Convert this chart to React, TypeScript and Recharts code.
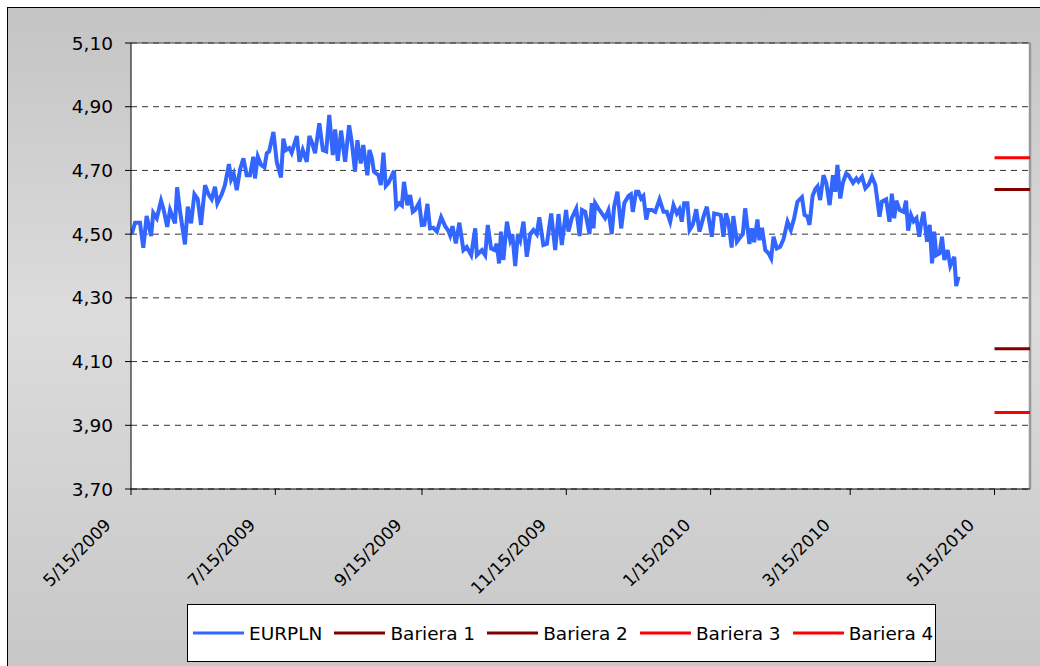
import { CartesianGrid, Line, LineChart, ReferenceLine, XAxis, YAxis } from "recharts";

// days counted from 5/15/2009
const eurplnDay = [
	0.3, 1.7, 3.8, 5.2, 6.6, 8.5, 9.4, 10.9, 12.7, 13.7,
	15.3, 16.5, 18.6, 19.5, 20.7, 22.8, 24.0, 25.4, 26.8, 28.2,
	29.6, 31.3, 32.7, 34.1, 35.5, 36.5, 38.4, 39.7, 41.4, 42.3,
	43.4, 44.7, 46.1, 47.5, 48.9, 50.3, 51.7, 52.4, 53.6, 55.0,
	56.4, 57.4, 58.4, 60.2, 61.6, 63.4, 64.4, 65.5, 66.9, 67.9,
	70.1, 71.2, 72.6, 74.3, 75.4, 76.4, 77.8, 79.6, 81.1, 82.5,
	83.8, 85.3, 86.3, 87.4, 88.8, 90.5, 92.2, 93.3, 94.7, 95.7,
	97.1, 98.2, 99.9, 100.8, 101.8, 102.7, 104.6, 105.6, 106.7, 107.7,
	108.8, 111.2, 112.1, 113.4, 114.5, 115.4, 116.8, 118.0, 119.1, 120.1,
	121.8, 122.9, 124.0, 125.3, 126.4, 127.8, 129.3, 131.1, 132.8, 134.2,
	134.9, 135.9, 137.3, 138.8, 140.5, 141.9, 143.8, 145.5, 146.2, 148.3,
	149.7, 150.8, 152.2, 153.6, 154.6, 155.6, 156.4, 157.4, 158.9, 160.3,
	161.2, 162.4, 163.5, 164.5, 165.9, 167.3, 168.7, 170.1, 171.5, 172.6,
	174.3, 175.8, 177.6, 179.3, 180.7, 182.1, 183.9, 184.9, 186.3, 188.2,
	189.6, 190.6, 192.0, 193.8, 194.8, 195.5, 196.2, 197.6, 199.0, 200.4,
	201.8, 203.2, 204.2, 205.6, 207.2, 208.5, 210.3, 211.3, 212.1, 213.5,
	214.5, 215.6, 216.6, 217.8, 218.7, 220.2, 221.6, 223.4, 225.1, 226.5,
	227.9, 229.3, 230.7, 231.8, 232.8, 233.8, 235.2, 236.1, 237.5, 238.9,
	240.3, 242.0, 243.4, 245.5, 246.5, 248.3, 249.3, 250.4, 251.5, 252.5,
	253.9, 254.6, 256.1, 257.5, 258.6, 259.6, 261.4, 262.4, 263.4, 264.8,
	265.6, 266.7, 268.1, 269.5, 270.6, 271.6, 273.0, 274.4, 275.8, 277.5,
	278.9, 280.3, 281.7, 283.6, 284.7, 285.9, 286.8, 288.1, 289.2, 290.2,
	291.3, 292.7, 293.9, 295.3, 296.7, 297.7, 298.6, 299.8, 300.9, 302.3,
	303.3, 305.2, 306.6, 307.5, 309.0, 310.4, 311.8, 313.2, 314.6, 316.4,
	317.4, 319.2, 320.6, 321.6, 322.6, 323.5, 324.9, 326.6, 327.6, 328.5,
	329.7, 330.8, 332.0, 333.2, 333.9, 335.0, 336.5, 337.6, 338.6, 339.5,
	340.4, 341.8, 342.8, 343.8, 345.2, 346.3, 348.0, 348.8, 349.8,
];

const eurplnRate = [
	4.500, 4.536, 4.536, 4.457, 4.557, 4.494, 4.567, 4.550, 4.605, 4.580,
	4.523, 4.576, 4.534, 4.647, 4.573, 4.468, 4.586, 4.534, 4.625, 4.610,
	4.529, 4.654, 4.626, 4.610, 4.649, 4.597, 4.626, 4.654, 4.720, 4.672,
	4.690, 4.638, 4.703, 4.738, 4.685, 4.685, 4.743, 4.675, 4.743, 4.717,
	4.710, 4.754, 4.760, 4.821, 4.727, 4.678, 4.800, 4.764, 4.770, 4.755,
	4.808, 4.727, 4.764, 4.727, 4.808, 4.790, 4.754, 4.848, 4.764, 4.760,
	4.874, 4.748, 4.829, 4.730, 4.825, 4.727, 4.842, 4.790, 4.696, 4.795,
	4.722, 4.780, 4.685, 4.764, 4.740, 4.696, 4.685, 4.654, 4.756, 4.651,
	4.660, 4.699, 4.586, 4.597, 4.590, 4.664, 4.591, 4.623, 4.570, 4.576,
	4.599, 4.529, 4.530, 4.595, 4.518, 4.520, 4.508, 4.553, 4.525, 4.510,
	4.496, 4.525, 4.471, 4.536, 4.450, 4.460, 4.434, 4.518, 4.434, 4.450,
	4.434, 4.529, 4.455, 4.450, 4.470, 4.408, 4.508, 4.419, 4.539, 4.481,
	4.500, 4.400, 4.497, 4.480, 4.539, 4.429, 4.500, 4.513, 4.500, 4.553,
	4.466, 4.470, 4.565, 4.450, 4.563, 4.466, 4.576, 4.508, 4.550, 4.580,
	4.494, 4.576, 4.570, 4.500, 4.597, 4.518, 4.597, 4.580, 4.565, 4.550,
	4.575, 4.500, 4.586, 4.633, 4.518, 4.597, 4.620, 4.625, 4.570, 4.633,
	4.633, 4.612, 4.620, 4.546, 4.576, 4.576, 4.570, 4.609, 4.570, 4.570,
	4.539, 4.591, 4.565, 4.578, 4.539, 4.597, 4.597, 4.513, 4.530, 4.578,
	4.508, 4.555, 4.586, 4.492, 4.565, 4.562, 4.560, 4.492, 4.565, 4.540,
	4.458, 4.557, 4.476, 4.490, 4.500, 4.581, 4.469, 4.518, 4.475, 4.546,
	4.481, 4.520, 4.450, 4.440, 4.424, 4.492, 4.455, 4.460, 4.484, 4.539,
	4.513, 4.550, 4.602, 4.616, 4.560, 4.555, 4.529, 4.620, 4.641, 4.650,
	4.607, 4.685, 4.660, 4.591, 4.685, 4.633, 4.717, 4.612, 4.661, 4.691,
	4.685, 4.661, 4.675, 4.665, 4.680, 4.644, 4.655, 4.680, 4.655, 4.555,
	4.602, 4.609, 4.539, 4.627, 4.550, 4.605, 4.576, 4.570, 4.605, 4.511,
	4.560, 4.540, 4.550, 4.492, 4.530, 4.570, 4.476, 4.529, 4.408, 4.508,
	4.434, 4.440, 4.492, 4.419, 4.450, 4.400, 4.429, 4.337, 4.366,
];

// barrier levels, drawn from 5/15/2010 to the end of the axis
const barrierDays = [365, 380];
const barrierNames = ["Bariera 1", "Bariera 2", "Bariera 3", "Bariera 4"];
const barrierLevels = [4.14, 4.64, 3.94, 4.74];
const barrierColors = ["#800000", "#800000", "#ff0000", "#ff0000"];

const xTickDays = [0, 61, 123, 184, 245, 304, 365];
const xTickLabels = ["5/15/2009", "7/15/2009", "9/15/2009", "11/15/2009", "1/15/2010", "3/15/2010", "5/15/2010"];
const yTicks = [3.7, 3.9, 4.1, 4.3, 4.5, 4.7, 4.9, 5.1];

const FONT = "'DejaVu Sans', Verdana, sans-serif";
const FONT_SIZE = 18.5;
const BLUE = "#3366ff";

const eurplnData = eurplnDay.map((day, i) => ({ day, rate: eurplnRate[i] }));

const barrierData = barrierLevels.map((level) =>
	barrierDays.map((day) => ({ day, rate: level })),
);

const DateTick = ({ x, y, payload }: any) => {
	const idx = xTickDays.indexOf(payload.value);
	const tx = x - 19;
	const ty = y + 29;
	return (
		<text
			x={tx}
			y={ty}
			transform={`rotate(-45, ${tx}, ${ty})`}
			textAnchor="end"
			fill="#000"
			fontSize={17}
			fontFamily={FONT}
		>
			{idx >= 0 ? xTickLabels[idx] : ""}
		</text>
	);
};

const legendItems = [
	{ name: "EURPLN", color: BLUE },
	...barrierNames.map((name, i) => ({ name, color: barrierColors[i] })),
];

export default function App() {
	return (
		<div
			style={{
				position: "absolute",
				left: 0,
				top: 0,
				width: 1040,
				height: 666,
				overflow: "hidden",
				fontFamily: FONT,
			}}
		>
			<div
				style={{
					position: "absolute",
					left: 7,
					top: 7,
					width: 1060,
					height: 680,
					border: "1px solid #000",
					background: "linear-gradient(#c4c4c4, #dcdcdc 45%, #c6c6c6)",
				}}
			/>
			<div style={{ position: "absolute", left: 0, top: 0 }}>
				<LineChart
					width={1040}
					height={666}
					margin={{ top: 43, right: 10, bottom: 147, left: 71 }}
					style={{ fontFamily: FONT }}
				>
					<CartesianGrid
						vertical={false}
						fill="#ffffff"
						stroke="#333"
						strokeDasharray="6 5"
					/>
					<XAxis
						type="number"
						dataKey="day"
						domain={[0, 380]}
						ticks={xTickDays}
						height={30}
						tickSize={6}
						tickMargin={2}
						interval={0}
						stroke="#000"
						tick={<DateTick />}
						allowDataOverflow
					/>
					<YAxis
						type="number"
						domain={[3.7, 5.1]}
						ticks={yTicks}
						width={60}
						tickSize={6}
						tickMargin={12}
						interval={0}
						stroke="#000"
						tick={{ fill: "#000", fontSize: FONT_SIZE, fontFamily: FONT }}
						tickFormatter={(v: number) => v.toFixed(2).replace(".", ",")}
						allowDataOverflow
					/>
					<ReferenceLine y={5.1} stroke="#444" />
					<ReferenceLine x={380} stroke="#999" strokeWidth={2.5} />
					<Line
						data={eurplnData}
						dataKey="rate"
						name="EURPLN"
						stroke={BLUE}
						strokeWidth={4}
						dot={false}
						type="linear"
						isAnimationActive={false}
					/>
					{barrierData.map((data, i) => (
						<Line
							key={barrierNames[i]}
							data={data}
							dataKey="rate"
							name={barrierNames[i]}
							stroke={barrierColors[i]}
							strokeWidth={3}
							dot={false}
							type="linear"
							isAnimationActive={false}
						/>
					))}
				</LineChart>
			</div>
			<div
				style={{
					position: "absolute",
					left: 187,
					top: 604,
					width: 749,
					height: 58,
					boxSizing: "border-box",
					border: "1px solid #000",
					background: "#fff",
					display: "flex",
					alignItems: "center",
					paddingLeft: 5,
					gap: 12,
					fontSize: FONT_SIZE,
					color: "#000",
				}}
			>
				{legendItems.map((item) => (
					<div key={item.name} style={{ display: "flex", alignItems: "center" }}>
						<svg width={51} height={6} style={{ display: "block" }}>
							<line x1={0} y1={3} x2={51} y2={3} stroke={item.color} strokeWidth={3} />
						</svg>
						<span style={{ marginLeft: 5, whiteSpace: "nowrap" }}>{item.name}</span>
					</div>
				))}
			</div>
		</div>
	);
}
